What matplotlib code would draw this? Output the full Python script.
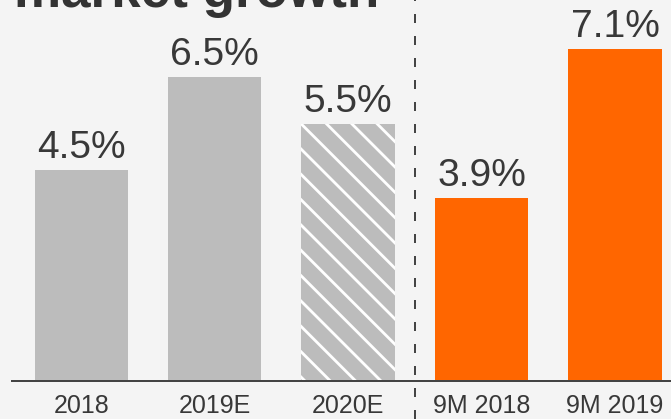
import matplotlib
matplotlib.use("Agg")
import matplotlib.pyplot as plt

# Market growth data
categories = ["2018", "2019E", "2020E", "9M 2018", "9M 2019"]
growth = [4.5, 6.5, 5.5, 3.9, 7.1]
labels = ["4.5%", "6.5%", "5.5%", "3.9%", "7.1%"]
title = "market growth"

DPI = 76
W, H = 671, 419


def pt(px):
    """Convert a pixel length to points at the figure resolution."""
    return px * 72.0 / DPI


GRAY = "#bcbcbc"
ORANGE = "#ff6600"
TEXT = "#383838"
BG = "#f4f4f4"

plt.rcParams["hatch.linewidth"] = pt(2.8)

fig = plt.figure(figsize=(W / DPI, H / DPI), dpi=DPI, facecolor=BG)

ax = fig.add_axes([12 / W, 38 / H, 659 / W, 381 / H])
ax.set_facecolor("none")

x = list(range(len(categories)))
colors = [GRAY, GRAY, GRAY, ORANGE, ORANGE]
bars = ax.bar(x, growth, width=0.70, color=colors, linewidth=0, zorder=2)
# forecast bar drawn with white diagonal stripes
bars[2].set_hatch("\\")
bars[2].set_edgecolor("white")
bars[2].set_linewidth(0)

ax.set_xlim(-0.52, 4.42)
ax.set_ylim(0, 381 / 46.8)

for xi, v, lab in zip(x, growth, labels):
    ax.annotate(lab, (xi, v), xytext=(0, pt(12)), textcoords="offset points",
                ha="center", va="baseline", fontsize=pt(39),
                family=["Liberation Sans", "DejaVu Sans"], color=TEXT)

ax.set_xticks(x, categories)
ax.tick_params(axis="x", length=0, pad=pt(13), colors=TEXT)
for t in ax.get_xticklabels():
    t.set_fontsize(pt(25))
    t.set_family(["Liberation Sans Narrow", "Liberation Sans", "DejaVu Sans"])
ax.set_yticks([])

for s in ("top", "right", "left"):
    ax.spines[s].set_visible(False)
ax.spines["bottom"].set_color("#444444")
ax.spines["bottom"].set_linewidth(pt(2))

# separator between full-year and nine-month figures
ax.axvline(2.5, ymin=-0.1, ymax=1.0, color="#444444", linewidth=pt(2),
           linestyle=(0, (4.5, 6.5)), clip_on=False, zorder=3)

fig.text(14 / W, 1 - 7 / H, title, ha="left", va="baseline",
         fontsize=pt(53), fontweight="bold",
         family=["Liberation Sans", "DejaVu Sans"], color="#333333")

fig.savefig("out.png", dpi=DPI, facecolor=BG)
